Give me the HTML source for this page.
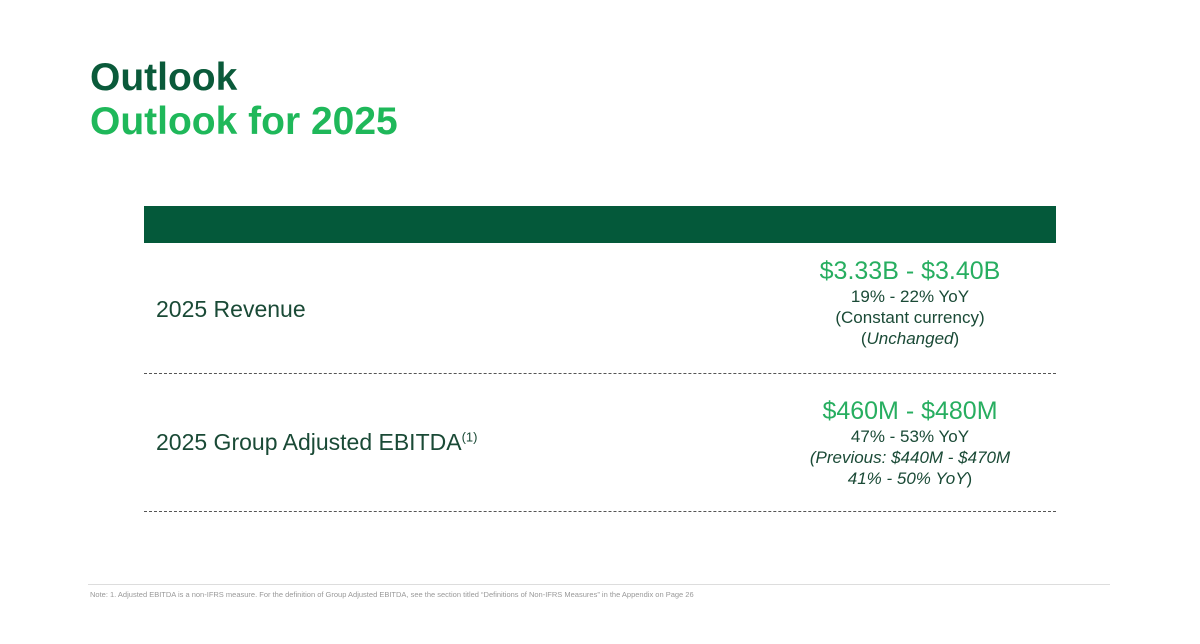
<!DOCTYPE html>
<html><head><meta charset="utf-8"><style>
body{margin:0;width:1200px;height:644px;background:#fff;position:relative;overflow:hidden;font-family:"Liberation Sans",sans-serif}
.a{position:absolute;white-space:nowrap}
.t1{left:90px;top:56px;font-size:39px;font-weight:bold;color:#0a5a3a}
.t2{left:90px;top:100px;font-size:39px;font-weight:bold;color:#1fb85a}
.bar{left:144px;top:206px;width:912px;height:37px;background:#04593a}
.lbl{left:156px;font-size:23px;color:#1a4a36}
.val{left:760px;width:300px;text-align:center;color:#1a4a36;font-size:17px;line-height:21px}
.big{font-size:25px;color:#27ae60;line-height:30px}
.dash{left:144px;width:912px;height:0;border-top:1.5px dashed #555}
</style></head><body>
<div class="a t1">Outlook</div>
<div class="a t2">Outlook for 2025</div>
<div class="a bar"></div>
<div class="a lbl" style="top:296px">2025 Revenue</div>
<div class="a val" style="top:256px"><div class="big">$3.33B - $3.40B</div>19% - 22% YoY<br>(Constant currency)<br>(<i>Unchanged</i>)</div>
<div class="a dash" style="top:373px"></div>
<div class="a lbl" style="top:429px">2025 Group Adjusted EBITDA<sup style="font-size:13px">(1)</sup></div>
<div class="a val" style="top:396px"><div class="big">$460M - $480M</div>47% - 53% YoY<br><i>(Previous: $440M - $470M<br>41% - 50% YoY</i>)</div>
<div class="a dash" style="top:511px"></div>
<div class="a" style="left:88px;top:584px;width:1022px;height:1px;background:#ddd"></div>
<div class="a" style="left:90px;top:590px;font-size:7.5px;color:#999">Note: 1. Adjusted EBITDA is a non-IFRS measure. For the definition of Group Adjusted EBITDA, see the section titled “Definitions of Non-IFRS Measures” in the Appendix on Page 26</div>
</body></html>
